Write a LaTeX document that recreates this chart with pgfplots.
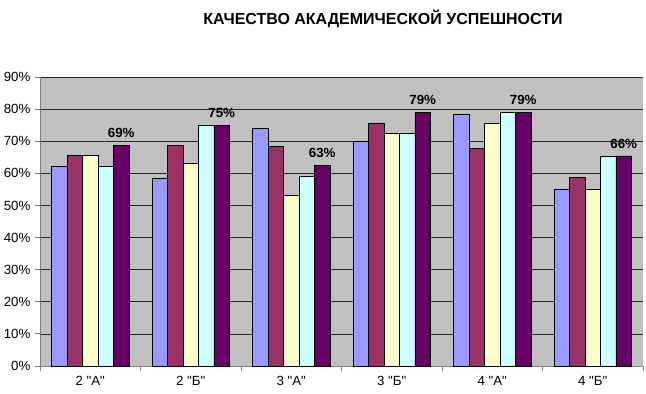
\documentclass[border=0pt]{standalone}
\usepackage{fontspec}
\setmainfont{Liberation Sans}[Ligatures=TeXOff]
\usepackage{pgfplots}
\usepackage{pgfplotstable}
\pgfplotsset{compat=1.18}
\definecolor{cA}{HTML}{9999FF}
\definecolor{cB}{HTML}{993366}
\definecolor{cC}{HTML}{FFFFCC}
\definecolor{cD}{HTML}{CCFFFF}
\definecolor{cE}{HTML}{660066}
\definecolor{bgGray}{HTML}{C0C0C0}
\definecolor{axGray}{HTML}{808080}

\pgfplotstableread{
x a    b    c    d    e    lab
0 62.2 65.5 65.5 62.2 68.6 69\%
1 58.5 68.7 63.1 74.8 74.8 75\%
2 74.1 68.5 53.0 59.1 62.4 63\%
3 70.0 75.7 72.3 72.3 79.0 79\%
4 78.5 67.7 75.7 79.0 79.0 79\%
5 55.0 58.6 55.0 65.4 65.4 66\%
}\datatable

\begin{document}
\begin{tikzpicture}
\useasboundingbox (0pt,0pt) rectangle (646pt,394pt);
\node[font=\bfseries\fontsize{16}{19}\selectfont] at (383pt,375pt) {КАЧЕСТВО АКАДЕМИЧЕСКОЙ УСПЕШНОСТИ};
\begin{axis}[
  at={(40pt,28pt)}, anchor=south west,
  width=603pt, height=289pt, scale only axis,
  xmin=-0.5, xmax=5.5, ymin=0, ymax=90,
  ybar, bar width=0.154,
  axis background/.style={fill=bgGray},
  axis x line*=bottom, axis y line*=left,
  axis line style={axGray, line width=0.8pt},
  ymajorgrids, major grid style={black!85, line width=0.7pt},
  ytick={0,10,...,90},
  yticklabel={\pgfmathprintnumber{\tick}\%},
  /pgf/number format/assume math mode=true,
  xtick={0,...,5},
  xticklabels={{2 "А"},{2 "Б"},{3 "А"},{3 "Б"},{4 "А"},{4 "Б"}},
  minor xtick={-0.5,0.5,...,5.5},
  every major x tick/.append style={draw=none},
  tick align=outside, major tick length=5pt, minor tick length=5pt,
  tick style={axGray, line width=0.8pt},
  ticklabel style={font=\fontsize{13.3}{15}\selectfont},
  xticklabel style={yshift=-2pt},
  yticklabel style={xshift=-1pt},
  clip=false,
]
\addplot[fill=cA, draw=black, line width=0.8pt, bar shift=-0.308] table[x=x,y=a] {\datatable};
\addplot[fill=cB, draw=black, line width=0.8pt, bar shift=-0.154] table[x=x,y=b] {\datatable};
\addplot[fill=cC, draw=black, line width=0.8pt, bar shift=0] table[x=x,y=c] {\datatable};
\addplot[fill=cD, draw=black, line width=0.8pt, bar shift=0.154] table[x=x,y=d] {\datatable};
\addplot[fill=cE, draw=black, line width=0.8pt, bar shift=0.308,
  nodes near coords, point meta=explicit symbolic,
  every node near coord/.append style={font=\bfseries\fontsize{13.3}{15}\selectfont, black, yshift=4pt}]
  table[x=x,y=e,meta=lab] {\datatable};
\end{axis}
\end{tikzpicture}
\end{document}
